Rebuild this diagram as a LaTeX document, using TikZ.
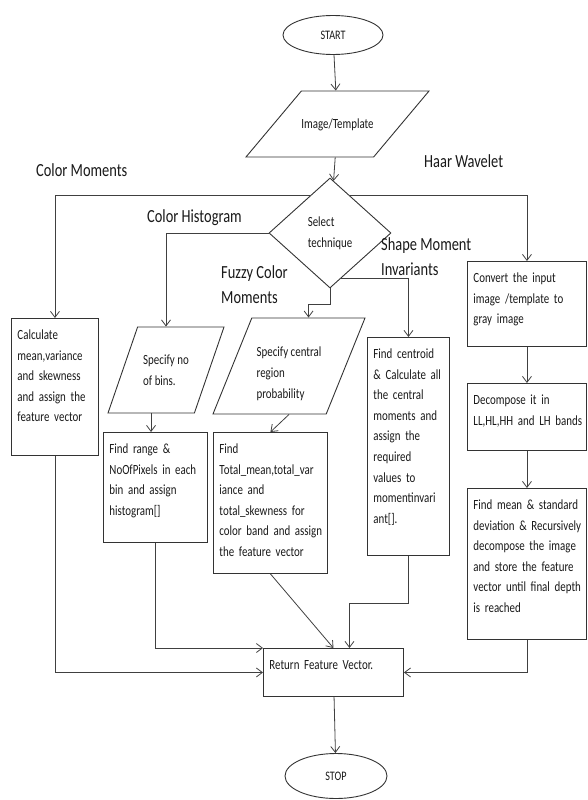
\documentclass[tikz,border=0pt]{standalone}
\usepackage{fontspec}
\setmainfont{Carlito}[FakeStretch=0.78]
\usetikzlibrary{shapes.geometric,arrows.meta}
\newcommand\boxfont{\fontsize{14}{20.6}\selectfont}
\newcommand\labelfont{\fontsize{18.5}{25}\selectfont}
\newcommand\termfont{\fontsize{13}{16}\selectfont}

\begin{document}
\begin{tikzpicture}[
    x=1pt, y=-1pt,
    every node/.style={text=black!90},
    terminal/.style={draw=black!80, line width=0.9pt, ellipse, minimum width=100pt, minimum height=39pt, inner sep=0pt, font=\termfont},
    iobox/.style={draw=black!80, line width=0.9pt, trapezium, trapezium stretches body, align=left, inner sep=0pt, font=\boxfont},
    decision/.style={draw=black!80, line width=0.9pt, diamond, minimum width=122pt, minimum height=110pt, inner sep=0pt, align=left, font=\boxfont},
    procbox/.style={draw=black!80, line width=0.9pt, anchor=north west, align=left, inner xsep=6pt, inner ysep=3pt, text height=18pt, font=\boxfont,
        execute at begin node={\rightskip=-8pt plus 2em\relax\hyphenpenalty=10000\relax}},
    branch/.style={anchor=base west, align=left, inner sep=0pt, font=\labelfont},
    flow/.style={draw=black!75, line width=0.8pt, -{Straight Barb[length=6pt,width=9pt]}},
    ]
\useasboundingbox (0,0) rectangle (587,800);
\node[terminal] (start) at (333,35) {START};
\node[iobox, trapezium left angle=50, trapezium right angle=130, minimum width=171pt, text height=37pt, text depth=29pt] (input) at (337.5,124) {Image/Template};
\node[decision] (select) at (330,233) {Select\\technique};
\node[branch] (cmlabel) at (36,176) {Color Moments};
\node[branch] (hwlabel) at (424,167) {Haar Wavelet};
\node[branch] (chlabel) at (147,222) {Color Histogram};
\node[branch] (fcmlabel) at (221,303) {Fuzzy Color\\Moments};
\node[branch] (smilabel) at (381,275) {Shape Moment\\Invariants};
\node[iobox, trapezium left angle=71, trapezium right angle=109, minimum width=116pt, text height=58pt, text depth=28pt] (bins) at (166,370) {Specify no\\of bins.};
\node[iobox, trapezium left angle=68, trapezium right angle=112, minimum width=152pt, text height=80pt, text depth=16pt] (central) at (289,366) {Specify central\\region\\probability};
\node[procbox, text width=75pt, text depth=113pt] (calc) at (11,318) {Calculate\\mean,variance\\and skewness\\and assign the\\feature vector};
\node[procbox, text width=92pt, text depth=86pt] (range) at (103,432) {Find range \&\\NoOfPixels in each\\bin and assign\\histogram[]};
\node[procbox, text width=102pt, text depth=117pt] (total) at (213,432) {Find\\Total\_mean,total\_var\\iance and\\total\_skewness for\\color band and assign\\the feature vector};
\node[procbox, text width=70pt, text depth=194pt] (centroid) at (367,337) {Find centroid\\\& Calculate all\\the central\\moments and\\assign the\\required\\values to\\momentinvari\\ant[].};
\node[procbox, text width=107pt, text depth=61pt] (convert) at (467,261) {Convert the input\\image /template to\\gray image};
\node[procbox, text width=107pt, text depth=43pt] (decompose) at (467,383) {Decompose it in\\LL,HL,HH and LH bands};
\node[procbox, text width=107pt, text depth=127pt] (mean) at (467,488) {Find mean \& standard\\deviation \& Recursively\\decompose the image\\and store the feature\\vector until final depth\\is reached};
\node[procbox, text width=128pt, text depth=24pt] (return) at (263,648) {Return Feature Vector.};
\node[terminal, minimum width=102pt, minimum height=45pt] (stop) at (336,776) {STOP};
\draw[flow] (start) -- (input);
\draw[flow] (input) -- (select);
\draw[flow] (select.118) -| (calc);
\draw[flow] (select.62) -| (convert);
\draw[flow] (select.west) -| (bins);
\draw[flow] (select.south) -- ++(0,16) -| (central.top side);
\draw[flow] (select.-77) -| (centroid);
\draw[flow] (bins.bottom side) -- (bins.bottom side |- range.north);
\draw[flow] (central.south) -- (total.north);
\draw[flow] (convert) -- (decompose);
\draw[flow] (decompose) -- (mean);
\draw[flow] (calc.south) |- (return.west);
\draw[flow] (range.south) |- (return.north west);
\draw[flow] (total.south) -- (return.north);
\draw[flow] (centroid.south) -- ++(0,47) -| ([xshift=16pt]return.north);
\draw[flow] (mean.south) |- (return.east);
\draw[flow] (return) -- (stop);
\end{tikzpicture}
\end{document}
